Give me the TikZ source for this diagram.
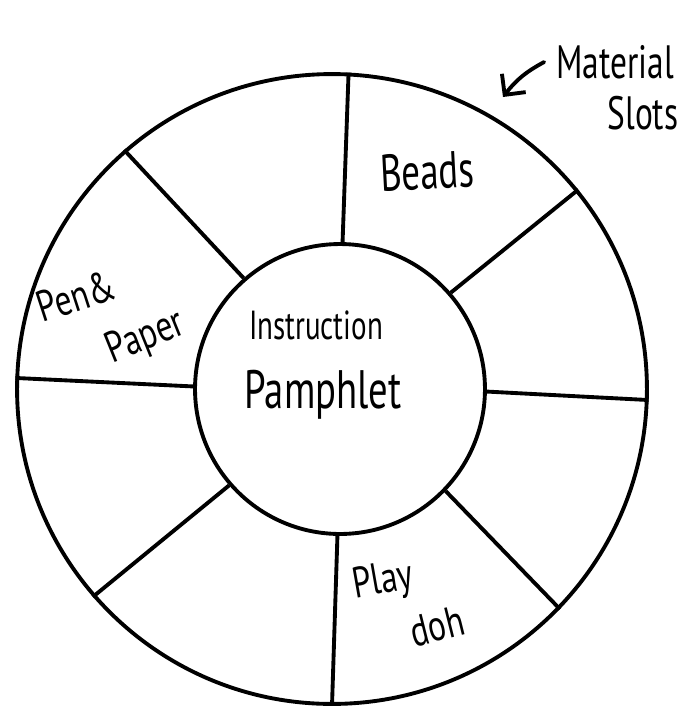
\documentclass[tikz,border=0pt]{standalone}
\usepackage{fontspec}
\setmainfont{PT Sans}
\usetikzlibrary{arrows.meta,positioning}
\tikzset{
  ring/.style={
    shape = circle,
    draw,
    line width = 2.2pt,
    inner sep = 0pt
  },
  spoke/.style={
    line width = 2.2pt
  },
  hand/.style={
    yscale = 1.4,
    inner sep = 1pt,
    font = \fontsize{21}{24}\selectfont
  },
  small hand/.style={
    yscale = 1.3,
    inner sep = 0pt,
    font = \fontsize{19}{22}\selectfont
  },
  note/.style={
    yscale = 1.4,
    inner sep = 1pt,
    font = \fontsize{19}{22}\selectfont
  },
  pointer/.style={
    line width = 2.2pt,
    line cap = round,
    -{Straight Barb[length=3mm,width=6mm]}
  }
}
\begin{document}
\begin{tikzpicture}[x=0.02cm, y=-0.02cm]
    \useasboundingbox (0,0) rectangle (700,718);
    % wheel
    \node[ring, minimum size=12.6cm] (rim) at (332,389) {};
    \node[ring, minimum size=5.8cm] (hub) at (340,389) {};
    \foreach \a/\b in {89/87.4, 41/39.8, 359/358.5, 316/316.2, 269/270.2, 221/221.4, 179/178.9, 131/131.8}
        \draw[spoke] (hub.\a) -- (rim.\b);
    % labels in the slots
    \node[hand, font=\fontsize{16.5}{18}\selectfont] (instr) at (316,325) {Instruction};
    \node[hand, font=\fontsize{22}{24}\selectfont] (pamph) at (323,395) {Pamphlet};
    \node[rotate=3, hand] (beads) at (427,171) {Beads};
    \node[rotate=18, small hand] (pen) at (76,296) {Pen\&};
    \node[rotate=22, small hand] (paper) at (146,338) {Paper};
    \node[rotate=10, small hand] (play) at (383,582) {Play};
    \node[rotate=14, small hand] (doh) at (437,626) {doh};
    % callout
    \node[note] (mat) at (615,62) {Material};
    \node[note] (slots) at (643,113) {Slots};
    \coordinate (slotpt) at (503,97);
    \draw[pointer] ([xshift=-2mm]mat.west) to[bend right=12] (slotpt);
\end{tikzpicture}
\end{document}
